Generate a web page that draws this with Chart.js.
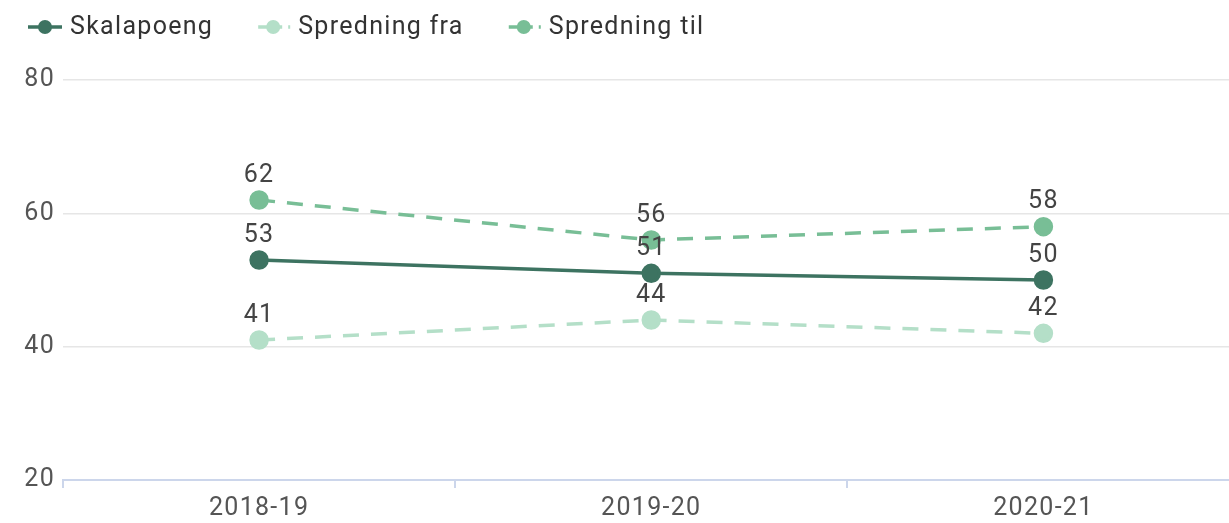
<!DOCTYPE html>
<html>
<head>
<meta charset="utf-8">
<script src="https://cdn.jsdelivr.net/npm/chart.js@4.4.1/dist/chart.umd.min.js"></script>
<style>
  html, body { margin: 0; padding: 0; overflow: hidden; background: #fff; }
  /* the plot runs a little past the right edge, as in the cropped original */
  #wrap { width: 1229px; height: 523px; position: relative; overflow: hidden; }
  #chart { display: block; position: absolute; left: 0; top: 0; }
</style>
</head>
<body>
<div id="wrap"><canvas id="chart" width="1251" height="523"></canvas></div>
<script>
const categories = ['2018-19', '2019-20', '2020-21'];
const skalapoeng = [53, 51, 50];
const spredningFra = [41, 44, 42];
const spredningTil = [62, 56, 58];
const yTicks = [20, 40, 60, 80];

const colors = {
    skala: '#3d7361',
    fra: '#b4dfc8',
    til: '#78be96'
};

const FONT = '25px Roboto';
const SPACING = '1.3px';

// the text in the picture is a bit wider than plain Roboto
const spacing = {
    id: 'spacing',
    beforeUpdate(chart) { chart.ctx.letterSpacing = SPACING; },
    beforeLayout(chart) { chart.ctx.letterSpacing = SPACING; },
    beforeDraw(chart) { chart.ctx.letterSpacing = SPACING; }
};

const valueLabels = {
    id: 'valueLabels',
    afterDatasetsDraw(chart) {
        const ctx = chart.ctx;
        ctx.save();
        ctx.font = FONT;
        ctx.letterSpacing = SPACING;
        ctx.fillStyle = '#444';
        ctx.textAlign = 'center';
        ctx.textBaseline = 'bottom';
        chart.data.datasets.forEach((ds, i) => {
            const meta = chart.getDatasetMeta(i);
            meta.data.forEach((pt, j) => {
                ctx.fillText(ds.data[j], pt.x, pt.y - 12);
            });
        });
        ctx.restore();
    }
};

// legend: short line with a dot, then the series name
const lineLegend = {
    id: 'lineLegend',
    afterDraw(chart) {
        const ctx = chart.ctx;
        const y = 27;
        let x = 28;
        ctx.save();
        ctx.font = FONT;
        ctx.letterSpacing = SPACING;
        ctx.textBaseline = 'middle';
        ctx.textAlign = 'left';
        chart.data.datasets.forEach(ds => {
            ctx.strokeStyle = ds.borderColor;
            ctx.fillStyle = ds.borderColor;
            ctx.lineWidth = 3.5;
            ctx.setLineDash(ds.borderDash ? [9, 6] : []);
            ctx.beginPath();
            ctx.moveTo(x + (ds.borderDash ? 2 : 0), y);
            ctx.lineTo(x + 34, y);
            ctx.stroke();
            ctx.setLineDash([]);
            ctx.beginPath();
            ctx.arc(x + 17, y, 7, 0, Math.PI * 2);
            ctx.fill();
            ctx.fillStyle = '#333';
            ctx.fillText(ds.label, x + 42, y + 1);
            x += 42 + ctx.measureText(ds.label).width + 43;
        });
        ctx.restore();
    }
};

new Chart(document.getElementById('chart'), {
    type: 'line',
    data: {
        labels: categories,
        datasets: [
            {
                label: 'Skalapoeng',
                data: skalapoeng,
                borderColor: colors.skala,
                backgroundColor: colors.skala,
                borderWidth: 3.5,
                pointRadius: 8,
                pointHoverRadius: 8
            },
            {
                label: 'Spredning fra',
                data: spredningFra,
                borderColor: colors.fra,
                backgroundColor: colors.fra,
                borderWidth: 3.5,
                borderDash: [16, 12],
                pointRadius: 8,
                pointHoverRadius: 8
            },
            {
                label: 'Spredning til',
                data: spredningTil,
                borderColor: colors.til,
                backgroundColor: colors.til,
                borderWidth: 3.5,
                borderDash: [16, 12],
                pointRadius: 8,
                pointHoverRadius: 8
            }
        ]
    },
    options: {
        responsive: false,
        animation: false,
        layout: { padding: { left: 0, right: 1, top: 80, bottom: 0 } },
        plugins: {
            tooltip: { enabled: false },
            legend: { display: false }
        },
        scales: {
            x: {
                offset: true,
                afterFit(scale) {
                    scale.height = 43;
                },
                border: { color: '#ccd6eb', width: 2 },
                grid: {
                    offset: true,
                    drawOnChartArea: false,
                    drawTicks: true,
                    tickLength: 8,
                    color: '#ccd6eb',
                    lineWidth: 2
                },
                ticks: {
                    color: '#555',
                    padding: 6,
                    font: { family: 'Roboto', size: 25 }
                }
            },
            y: {
                min: yTicks[0],
                max: yTicks[yTicks.length - 1],
                afterBuildTicks(scale) {
                    scale.ticks = yTicks.map(v => ({ value: v }));
                },
                afterFit(scale) {
                    scale.width = 63;
                },
                border: { display: false },
                grid: {
                    color: '#e6e6e6',
                    lineWidth: 1.5,
                    drawTicks: false
                },
                ticks: {
                    color: '#555',
                    padding: 8,
                    font: { family: 'Roboto', size: 25 }
                }
            }
        }
    },
    plugins: [spacing, valueLabels, lineLegend]
});
</script>
</body>
</html>
